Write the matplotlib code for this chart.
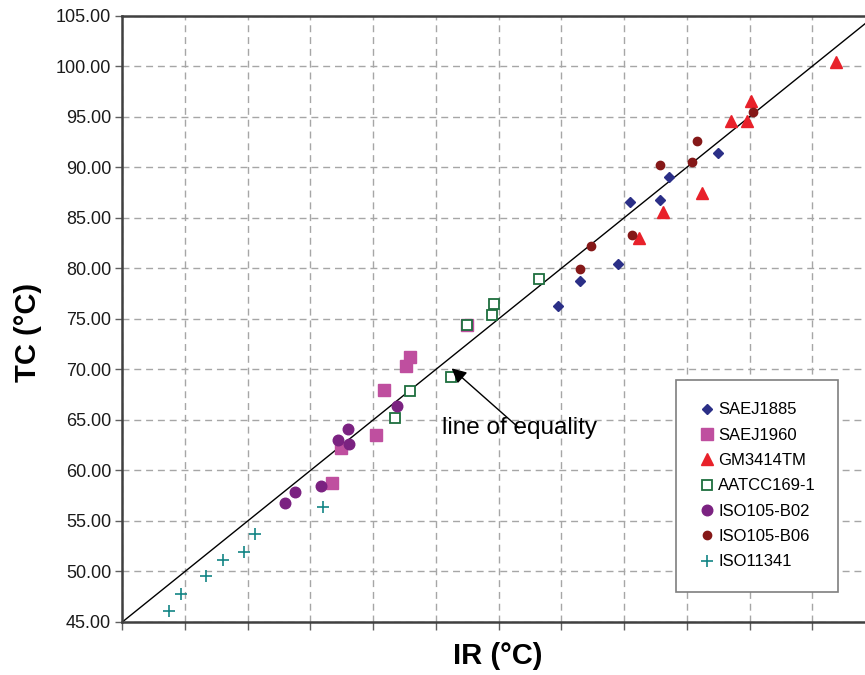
import matplotlib
matplotlib.use("Agg")
import matplotlib.pyplot as plt
from matplotlib.ticker import FixedLocator, FormatStrFormatter

plt.rcParams['font.family'] = ['Liberation Sans', 'DejaVu Sans']

# ---- data (IR, TC) ----
saej1885_x = [92.5, 88.6, 85.5, 87.9, 84.5, 81.5, 79.75]
saej1885_y = [91.4, 89.0, 86.6, 86.8, 80.4, 78.75, 76.3]

saej1960_x = [72.5, 67.9, 67.6, 65.9, 65.2, 62.4, 61.7]
saej1960_y = [74.4, 71.2, 70.3, 68.0, 63.5, 62.25, 58.8]

gm3414_x = [101.9, 95.1, 93.5, 94.8, 91.2, 88.1, 86.2]
gm3414_y = [100.45, 96.6, 94.6, 94.6, 87.5, 85.6, 83.0]

aatcc_x = [78.2, 74.6, 74.5, 72.5, 71.2, 67.9, 66.7]
aatcc_y = [78.9, 76.5, 75.4, 74.4, 69.25, 67.9, 65.2]

iso_b02_x = [66.9, 63.0, 62.2, 63.05, 60.8, 58.8, 58.0]
iso_b02_y = [66.35, 64.1, 63.0, 62.6, 58.5, 57.9, 56.8]

iso_b06_x = [95.25, 90.8, 90.4, 87.9, 85.6, 82.4, 81.5]
iso_b06_y = [95.5, 92.6, 90.5, 90.25, 83.3, 82.2, 79.9]

iso11341_x = [61.0, 55.6, 54.7, 53.0, 51.7, 49.65, 48.7]
iso11341_y = [56.4, 53.7, 51.95, 51.15, 49.6, 47.8, 46.05]

equality = [45, 105]
y_ticks = [45, 50, 55, 60, 65, 70, 75, 80, 85, 90, 95, 100, 105]
x_ticks = [45, 50, 55, 60, 65, 70, 75, 80, 85, 90, 95, 100, 105]

W, H = 865, 675
fig = plt.figure(figsize=(W / 100, H / 100), dpi=100)
x0, x1 = 122.3, 875.0
ytop, ybot = 15.7, 622.0
ax = fig.add_axes([x0 / W, 1 - ybot / H, (x1 - x0) / W, (ybot - ytop) / H])

ax.set_xlim(45, 105)
ax.set_ylim(45, 105)

# grid
ax.xaxis.set_major_locator(FixedLocator(x_ticks))
ax.yaxis.set_major_locator(FixedLocator(y_ticks))
ax.grid(True, color='#a6a6a6', linestyle=(0, (5, 3.5)), linewidth=1.0, zorder=0)
ax.set_axisbelow(True)

# line of equality
ax.plot(equality, equality, color='black', linewidth=1.0, zorder=2)

ax.plot(saej1885_x, saej1885_y, linestyle='none', marker='D', ms=5.3,
        color='#2b2f87', mec='#2b2f87', label='SAEJ1885', zorder=3)
ax.plot(saej1960_x, saej1960_y, linestyle='none', marker='s', ms=9,
        color='#bf4f9f', mec='#bf4f9f', label='SAEJ1960', zorder=3)
ax.plot(gm3414_x, gm3414_y, linestyle='none', marker='^', ms=8.5,
        color='#e8212a', mec='#e8212a', label='GM3414TM', zorder=3)
ax.plot(aatcc_x, aatcc_y, linestyle='none', marker='s', ms=6.8,
        mfc='white', mec='#1e6e3e', mew=1.3, label='AATCC169-1', zorder=3)
ax.plot(iso_b02_x, iso_b02_y, linestyle='none', marker='o', ms=7.6,
        color='#7b2281', mec='#7b2281', label='ISO105-B02', zorder=3)
ax.plot(iso_b06_x, iso_b06_y, linestyle='none', marker='o', ms=6.0,
        color='#851818', mec='#851818', label='ISO105-B06', zorder=3)
ax.plot(iso11341_x, iso11341_y, linestyle='none', marker='+', ms=9,
        mew=1.2, color='#138585', label='ISO11341', zorder=3)

# annotation
ax.annotate('line of equality', xy=(71.25, 70.1), xytext=(70.45, 64.2),
            fontsize=17.5, va='center', ha='left', color='black',
            arrowprops=dict(arrowstyle='-|>', color='black', lw=1.0,
                            mutation_scale=22, shrinkA=0, shrinkB=0,
                            patchA=None),
            zorder=4)

# spines and ticks
for side in ['left', 'bottom', 'top']:
    ax.spines[side].set_color('#404040')
    ax.spines[side].set_linewidth(1.8)
ax.spines['right'].set_visible(False)
ax.yaxis.set_major_formatter(FormatStrFormatter('%.2f'))
ax.tick_params(axis='y', direction='out', length=5, width=1.0, color='#606060',
               labelsize=13, labelcolor='#1a1a1a', pad=3)
ax.tick_params(axis='x', direction='out', length=6, width=1.0, color='#606060',
               labelbottom=False)

fig.text(498 / W, 1 - 656 / H, 'IR (°C)', fontsize=21, fontweight='bold',
         ha='center', va='center')
fig.text(28 / W, 1 - 332 / H, 'TC (°C)', fontsize=21, fontweight='bold',
         ha='center', va='center', rotation=90)

leg = ax.legend(loc='upper left', bbox_to_anchor=(675.7 / W, 1 - 380 / H),
                bbox_transform=fig.transFigure, borderaxespad=0,
                fontsize=12, frameon=True, fancybox=False, framealpha=1,
                edgecolor='#7f7f7f', handlelength=1.0, handletextpad=0.2,
                borderpad=1.35, labelspacing=0.62, numpoints=1)
leg.get_frame().set_linewidth(1.2)

fig.savefig('out.png', dpi=100)
